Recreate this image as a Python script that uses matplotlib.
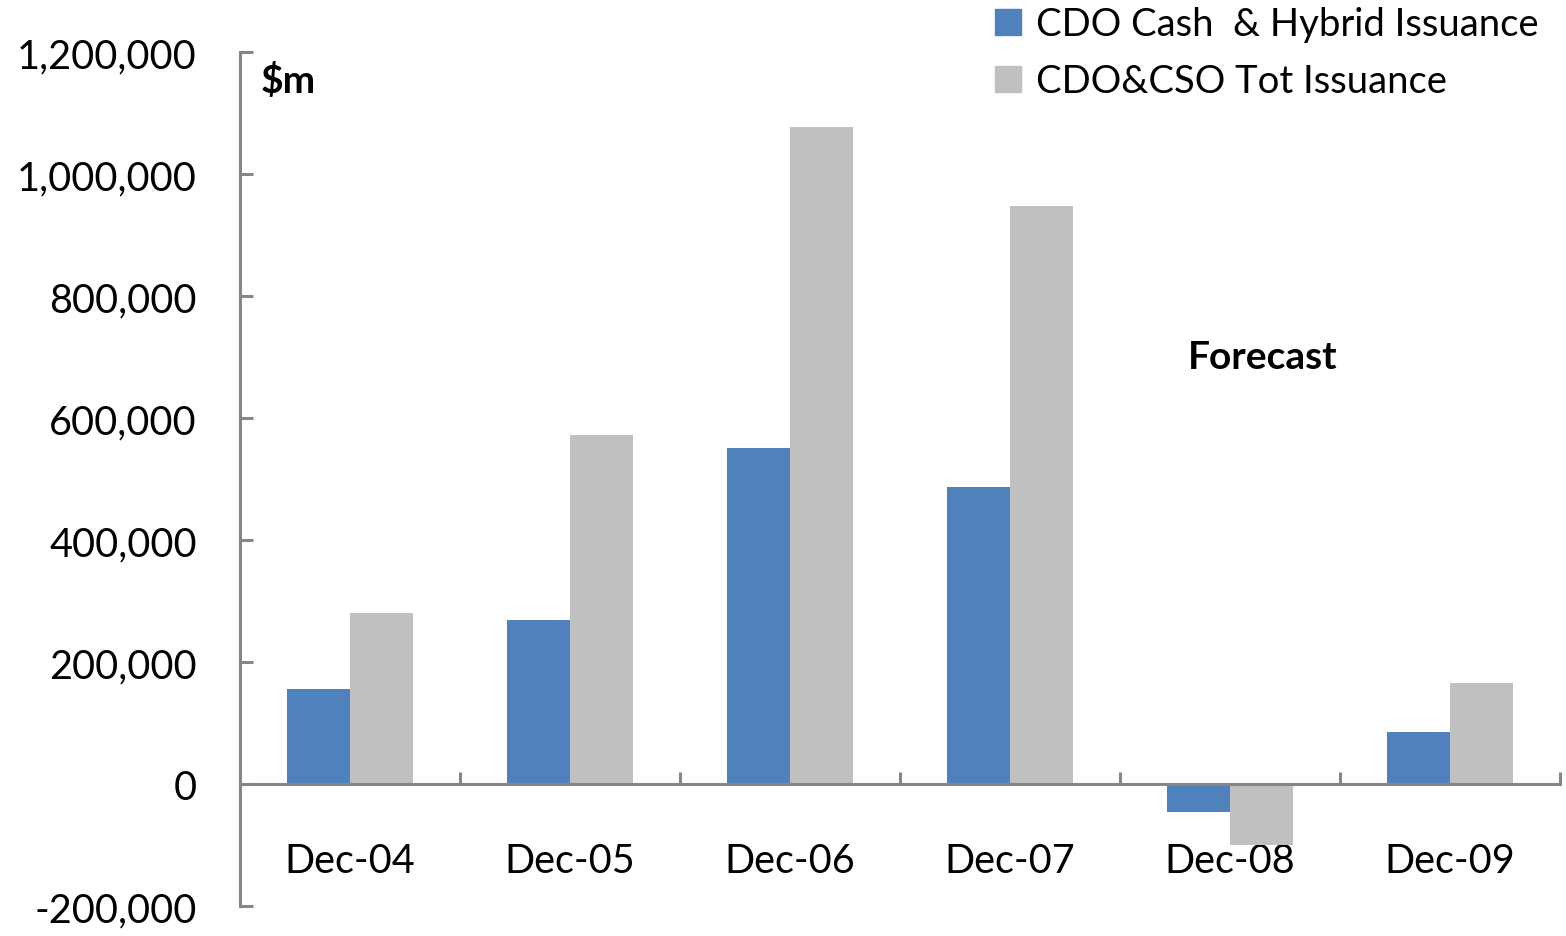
import matplotlib
matplotlib.use("Agg")
import matplotlib.pyplot as plt
import numpy as np
from matplotlib.patches import Patch

# ----------------------------
# Data ($m)
# ----------------------------
categories = ["Dec-04", "Dec-05", "Dec-06", "Dec-07", "Dec-08", "Dec-09"]
cash_hybrid = [155000, 269000, 551000, 487000, -46000, 85000]
cdo_cso_total = [280000, 572000, 1077000, 947000, -100000, 165000]
series_names = ["CDO Cash  & Hybrid Issuance", "CDO&CSO Tot Issuance"]
y_ticks = [-200000, 0, 200000, 400000, 600000, 800000, 1000000, 1200000]

BLUE = "#4F81BD"
GREY = "#C0C0C0"
AXIS = "#868686"

plt.rcParams["font.family"] = ["Lato", "DejaVu Sans"]

fig = plt.figure(figsize=(15.66, 9.37), dpi=100)
ax = fig.add_axes([240 / 1566, 1 - 907 / 937, 1320 / 1566, (907 - 53) / 937])

# ----------------------------
# Bars
# ----------------------------
x = np.arange(len(categories))
w = 0.286
ax.bar(x - w / 2, cash_hybrid, width=w, color=BLUE, zorder=2)
ax.bar(x + w / 2, cdo_cso_total, width=w, color=GREY, zorder=2)

ax.set_xlim(-0.5, len(categories) - 0.5)
ax.set_ylim(-200000, 1200000)

# ----------------------------
# Axes styling (Excel look)
# ----------------------------
for s in ["top", "right"]:
    ax.spines[s].set_visible(False)
ax.spines["left"].set_color(AXIS)
ax.spines["left"].set_linewidth(2.2)
ax.spines["bottom"].set_position(("data", 0))
ax.spines["bottom"].set_color(AXIS)
ax.spines["bottom"].set_linewidth(2.2)
ax.spines["bottom"].set_zorder(3)

ax.set_yticks(y_ticks)
ax.set_yticklabels([f"{v:,.0f}" for v in y_ticks])
ax.tick_params(axis="y", direction="in", length=9, width=2.2, color=AXIS,
               labelsize=28.5, pad=31)

# category boundaries as minor ticks, labels on major ticks
ax.set_xticks(x)
ax.set_xticklabels(categories)
ax.set_xticks(np.arange(0.5, len(categories), 1.0), minor=True)
ax.tick_params(axis="x", which="major", length=0, labelsize=28.5, pad=42)
ax.tick_params(axis="x", which="minor", direction="in", length=9, width=2.2,
               color=AXIS)

# ----------------------------
# Annotations
# ----------------------------
ax.text(0.016, 0.988, "$m", transform=ax.transAxes, fontsize=28,
        fontweight="bold", va="top", ha="left")
ax.text(4.15, 700000, "Forecast", fontsize=28, fontweight="bold",
        ha="center", va="center")

handles = [Patch(color=BLUE), Patch(color=GREY)]
fig.legend(handles, series_names, loc="upper left",
           bbox_to_anchor=(995 / 1566, 1 - 7 / 937), frameon=False,
           fontsize=27.5, handlelength=0.67, handleheight=0.67,
           handletextpad=0.4, labelspacing=0.55, borderpad=0,
           borderaxespad=0)

fig.savefig("out.png", dpi=100)
